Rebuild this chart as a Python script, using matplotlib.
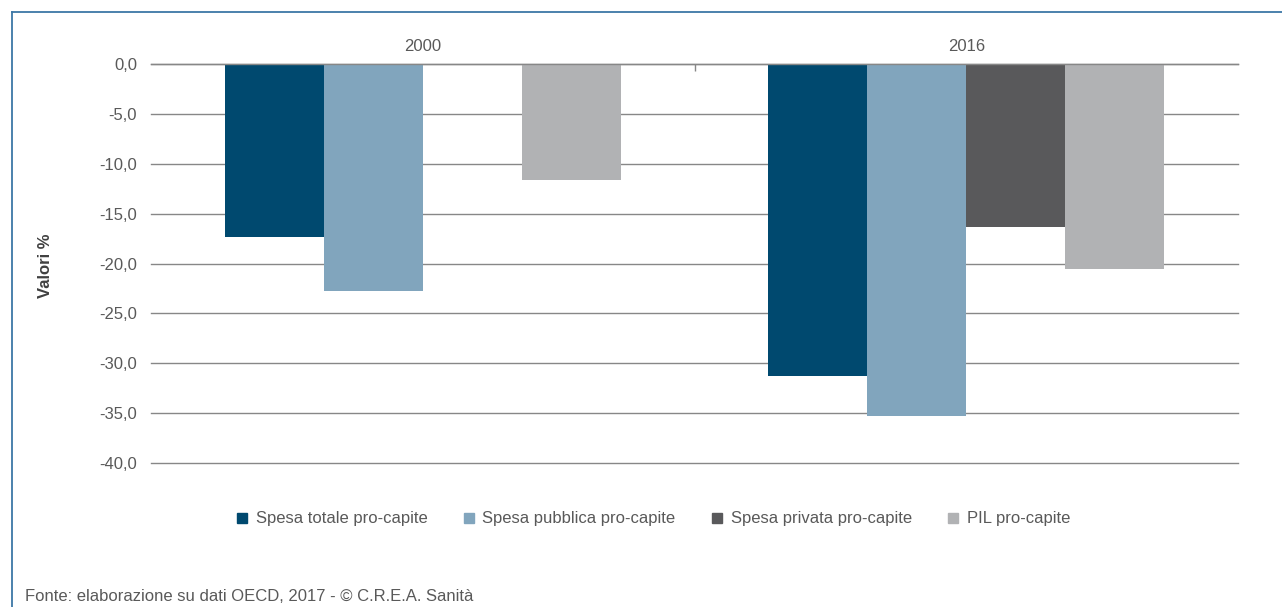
import numpy as np
import matplotlib
matplotlib.use("Agg")
import matplotlib.pyplot as plt
from matplotlib.lines import Line2D

plt.rcParams["font.family"] = ["Liberation Sans", "DejaVu Sans"]

years = ["2000", "2016"]
series = [
    "Spesa totale pro-capite",
    "Spesa pubblica pro-capite",
    "Spesa privata pro-capite",
    "PIL pro-capite",
]
spesa_totale = [-17.3, -31.3]
spesa_pubblica = [-22.8, -35.3]
spesa_privata = [np.nan, -16.3]
pil = [-11.6, -20.6]
yticks = [0, -5, -10, -15, -20, -25, -30, -35, -40]

colors = ["#00496f", "#81a5bd", "#59595b", "#b1b2b4"]
text_color = "#595959"
grid_color = "#878787"
fs = 12

fig = plt.figure(figsize=(12.82, 6.07), dpi=100)
ax = fig.add_axes([151 / 1282, 1 - 463 / 607, (1238 - 151) / 1282, (463 - 64) / 607])

x = np.arange(len(years))
w = 0.182
values = [spesa_totale, spesa_pubblica, spesa_privata, pil]
for i, (vals, col, name) in enumerate(zip(values, colors, series)):
    ax.bar(x + (i - 1.5) * w, vals, width=w, color=col, label=name, zorder=3)

ax.set_xlim(-0.5, 1.5)
ax.set_ylim(-40, 0)
ax.set_yticks(yticks)
ax.set_yticklabels([f"{v:.1f}".replace(".", ",") for v in yticks])
ax.yaxis.grid(True, color=grid_color, linewidth=1.0, zorder=0)
for gl in ax.get_ygridlines():
    gl.set_clip_on(False)
ax.tick_params(axis="y", length=0, pad=10, labelsize=fs, labelcolor=text_color)

# year labels sit above the zero line
ax.xaxis.tick_top()
ax.set_xticks(x)
ax.set_xticklabels(years)
ax.set_xticks([0.5], minor=True)
ax.tick_params(axis="x", which="major", length=0, pad=7, labelsize=fs, labelcolor=text_color)
ax.tick_params(axis="x", which="minor", direction="in", length=5, width=1.0, color=grid_color)

for s in ["left", "right", "bottom"]:
    ax.spines[s].set_visible(False)
ax.spines["top"].set_color(grid_color)
ax.spines["top"].set_linewidth(1.0)
ax.spines["top"].set_zorder(4)

fig.text(45 / 1282, 1 - 266 / 607, "Valori %", rotation=90, ha="center", va="center",
         fontsize=fs, fontweight="bold", color="#404040")

handles = [Line2D([], [], marker="s", linestyle="none", markersize=7.5, color=c) for c in colors]
fig.legend(handles, series, loc="center", bbox_to_anchor=(652 / 1282, 1 - 519 / 607),
           ncol=4, frameon=False, fontsize=fs, labelcolor=text_color,
           handletextpad=0.3, columnspacing=2.0, handlelength=1.0)

fig.text(25 / 1282, 1 - 601 / 607, "Fonte: elaborazione su dati OECD, 2017 - © C.R.E.A. Sanità",
         ha="left", va="baseline", fontsize=fs, color=text_color)

# outer frame: left and top edges
frame_color = "#3d77a6"
fig.add_artist(Line2D([11.5 / 1282, 11.5 / 1282], [0, 1 - 12 / 607], color=frame_color, linewidth=1.3))
fig.add_artist(Line2D([11.5 / 1282, 1], [1 - 12 / 607, 1 - 12 / 607], color=frame_color, linewidth=1.3))

fig.savefig("out.png", dpi=100, facecolor="white")
